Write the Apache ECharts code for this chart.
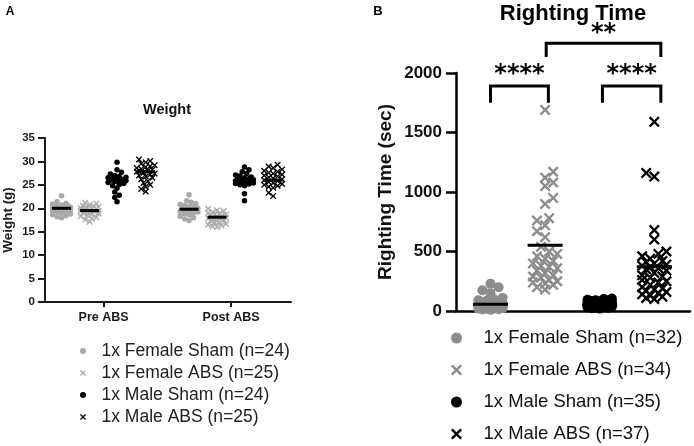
<!DOCTYPE html>
<html><head><meta charset="utf-8">
<script src="https://cdn.jsdelivr.net/npm/echarts@6/dist/echarts.min.js"></script>
<style>html,body{margin:0;padding:0;background:#fff}#c{width:694px;height:446px}</style>
</head><body><div id="c"></div>
<script>
// ---------- Panel A : Weight ----------
const weightCategories = ['Pre ABS', 'Post ABS'];
const weightGroups = ['1x Female Sham (n=24)', '1x Female ABS (n=25)', '1x Male Sham (n=24)', '1x Male ABS (n=25)'];
const weightTicks = [0, 5, 10, 15, 20, 25, 30, 35];
const femaleShamPre = [22.7, 21.4, 21.1, 20.9, 20.7, 20.5, 20.4, 20.3, 20.2, 20.1, 20.0, 19.9, 19.8, 19.7, 19.6, 19.5, 19.3, 19.2, 19.0, 18.8, 18.6, 18.4, 18.2, 18.0];
const femaleAbsPre = [21.2, 21.0, 20.8, 20.6, 20.4, 20.3, 20.1, 20.0, 19.9, 19.8, 19.7, 19.6, 19.5, 19.4, 19.3, 19.2, 19.0, 18.9, 18.7, 18.5, 18.3, 18.1, 17.9, 17.6, 17.1];
const maleShamPre = [29.8, 28.2, 27.7, 27.3, 27.0, 26.8, 26.6, 26.5, 26.3, 26.2, 26.1, 26.0, 25.9, 25.8, 25.7, 25.5, 25.3, 25.1, 24.8, 24.3, 23.5, 22.8, 22.3, 21.4];
const maleAbsPre = [30.4, 30.1, 29.8, 29.5, 29.2, 29.0, 28.8, 28.6, 28.4, 28.2, 28.0, 27.8, 27.6, 27.4, 27.2, 27.0, 26.8, 26.5, 26.2, 25.8, 25.4, 25.0, 24.6, 24.1, 23.6];
const femaleShamPost = [22.9, 21.6, 21.3, 21.0, 20.8, 20.6, 20.4, 20.2, 20.0, 19.9, 19.8, 19.7, 19.6, 19.5, 19.4, 19.3, 19.2, 19.0, 18.8, 18.6, 18.3, 18.0, 17.7, 17.4];
const femaleAbsPost = [19.9, 19.6, 19.4, 19.2, 19.0, 18.9, 18.7, 18.6, 18.4, 18.3, 18.2, 18.1, 18.0, 17.9, 17.8, 17.6, 17.5, 17.3, 17.1, 16.9, 16.7, 16.5, 16.3, 16.1, 16.0];
const maleShamPost = [28.8, 28.2, 27.8, 27.4, 27.1, 26.9, 26.7, 26.5, 26.4, 26.3, 26.1, 26.0, 25.9, 25.8, 25.7, 25.6, 25.5, 25.4, 25.3, 25.2, 25.0, 24.8, 23.1, 21.6];
const maleAbsPost = [29.3, 28.9, 28.6, 28.3, 28.0, 27.8, 27.6, 27.4, 27.2, 27.0, 26.8, 26.6, 26.4, 26.2, 26.0, 25.8, 25.6, 25.4, 25.2, 25.0, 24.8, 24.6, 24.4, 23.3, 22.6];
const weightCenterPre = [20.0, 19.5, 26.0, 27.8];
const weightCenterPost = [19.8, 18.1, 26.0, 26.0];

// ---------- Panel B : Righting Time ----------
const rightingGroups = ['1x Female Sham (n=32)', '1x Female ABS (n=34)', '1x Male Sham (n=35)', '1x Male ABS (n=37)'];
const rightingTicks = [0, 500, 1000, 1500, 2000];
const rightFemaleSham = [230, 200, 175, 150, 110, 95, 90, 85, 80, 75, 70, 65, 60, 55, 50, 48, 45, 42, 40, 38, 35, 33, 30, 28, 26, 24, 22, 20, 18, 15, 12, 10];
const rightFemaleAbs = [1690, 1170, 1120, 1080, 1050, 950, 900, 780, 760, 720, 670, 620, 540, 500, 480, 460, 440, 420, 400, 380, 370, 360, 340, 320, 300, 290, 280, 260, 250, 240, 230, 220, 200, 180];
const rightMaleSham = [105, 100, 95, 90, 88, 85, 82, 80, 78, 75, 72, 70, 68, 66, 64, 62, 60, 58, 56, 54, 52, 50, 48, 46, 44, 42, 40, 38, 36, 34, 32, 30, 27, 24, 20];
const rightMaleAbs = [1590, 1160, 1130, 680, 600, 500, 480, 460, 440, 420, 410, 400, 390, 380, 370, 360, 350, 340, 320, 300, 290, 280, 260, 250, 240, 220, 200, 190, 180, 170, 160, 150, 140, 130, 120, 110, 100];
const rightingCenters = [56, 552, 50, 372];
const comparisonPairs = [[0, 1], [2, 3], [1, 3]];
const comparisonLabels = ['****', '****', '**'];

// ---------- layout ----------
const GA = {left: 43, top: 138, width: 248, height: 164, xmin: -0.46, xmax: 1.47, ymax: 35};
const GB = {left: 456, top: 73, width: 234, height: 238, xmin: -0.632, xmax: 3.654, ymax: 2000};
const A_OFF = [-0.33, -0.11, 0.105, 0.33];
const XPATH = 'path://M0,1.5L1.5,0L5,3.5L8.5,0L10,1.5L6.5,5L10,8.5L8.5,10L5,6.5L1.5,10L0,8.5L3.5,5Z';
const FONT = '"Liberation Sans", Arial, sans-serif';
const grayA = '#a9a9a9', grayB = '#8c8c8c';

function swarm(values, pxPerUnit, diam, maxOff) {
  const idx = values.map((v, i) => i).sort((a, b) => values[a] - values[b]);
  const placed = [];
  const off = new Array(values.length).fill(0);
  const step = diam * 0.45;
  idx.forEach((i, n) => {
    const y = values[i] * pxPerUnit;
    let best = 0, bestScore = -1, done = false;
    for (let k = 0; k * step <= maxOff && !done; k++) {
      const s = n % 2 ? -1 : 1;
      const cands = k === 0 ? [0] : [s * k * step, -s * k * step];
      for (const c of cands) {
        let md = Infinity;
        for (const p of placed) { const d = Math.hypot(p[0] - c, p[1] - y); if (d < md) md = d; }
        if (md >= diam * 0.85) { best = c; done = true; break; }
        if (md > bestScore) { bestScore = md; best = c; }
      }
    }
    off[i] = best; placed.push([best, y]);
  });
  return off;
}

const axPxA = GA.width / (GA.xmax - GA.xmin), ayPxA = GA.height / GA.ymax;
const axPxB = GB.width / (GB.xmax - GB.xmin), ayPxB = GB.height / GB.ymax;

function weightPoints(g, pre, post) {
  const pts = [];
  [pre, post].forEach((arr, c) => {
    const off = swarm(arr, ayPxA, 5, 9);
    arr.forEach((v, i) => pts.push([c + A_OFF[g] + off[i] / axPxA, v]));
  });
  return pts;
}
function rightPoints(g, arr) {
  const off = swarm(arr, ayPxB, 9, 13);
  return arr.map((v, i) => [g + off[i] / axPxB, v]);
}

const weightSets = [[femaleShamPre, femaleShamPost], [femaleAbsPre, femaleAbsPost], [maleShamPre, maleShamPost], [maleAbsPre, maleAbsPost]];
const rightSets = [rightFemaleSham, rightFemaleAbs, rightMaleSham, rightMaleAbs];
const symA = ['circle', XPATH, 'circle', XPATH];
const sizeA = [5.5, 6.5, 5.5, 6.5];
const colA = [grayA, grayA, '#000', '#000'];
const sizeB = [10, 11, 10, 11];
const colB = [grayB, grayB, '#000', '#000'];

const series = [];
weightGroups.forEach((name, g) => {
  series.push({type: 'scatter', name, xAxisIndex: 0, yAxisIndex: 0, symbol: symA[g], symbolSize: sizeA[g],
    itemStyle: {color: colA[g], opacity: 1}, data: weightPoints(g, weightSets[g][0], weightSets[g][1]), z: 2});
});
rightingGroups.forEach((name, g) => {
  series.push({type: 'scatter', name, xAxisIndex: 1, yAxisIndex: 1, symbol: symA[g], symbolSize: sizeB[g],
    itemStyle: {color: colB[g], opacity: 1}, data: rightPoints(g, rightSets[g]), z: 2});
});
const meanA = [];
weightCenterPre.forEach((v, g) => meanA.push([0 + A_OFF[g], v]));
weightCenterPost.forEach((v, g) => meanA.push([1 + A_OFF[g], v]));
series.push({type: 'custom', xAxisIndex: 0, yAxisIndex: 0, z: 5, silent: true, data: meanA,
  renderItem: (p, api) => { const c = api.coord([api.value(0), api.value(1)]);
    return {type: 'line', shape: {x1: c[0] - 9.5, y1: c[1], x2: c[0] + 9.5, y2: c[1]}, style: {stroke: '#000', lineWidth: 3}}; }});
series.push({type: 'custom', xAxisIndex: 1, yAxisIndex: 1, z: 5, silent: true,
  data: rightingCenters.map((v, g) => [g, v]),
  renderItem: (p, api) => { const c = api.coord([api.value(0), api.value(1)]);
    return {type: 'line', shape: {x1: c[0] - 17.5, y1: c[1], x2: c[0] + 17.5, y2: c[1]}, style: {stroke: '#000', lineWidth: 3}}; }});
// significance brackets (layout: end offsets, heights in data units)
const bracketLayout = [
  {x1: 0, x2: 1.06, top: 1891, leg: 1750, label: 1983},
  {x1: 2.05, x2: 3.12, top: 1891, leg: 1750, label: 1983},
  {x1: 1.02, x2: 3.12, top: 2250, leg: 2134, label: 2330}
];
series.push({type: 'custom', xAxisIndex: 1, yAxisIndex: 1, z: 6, silent: true, clip: false,
  data: comparisonPairs.map((pr, i) => [pr[0], pr[1], i]),
  renderItem: (p, api) => {
    const i = api.value(2), L = bracketLayout[i];
    const a = api.coord([L.x1, L.leg]), b = api.coord([L.x1, L.top]), c = api.coord([L.x2, L.top]), d = api.coord([L.x2, L.leg]);
    const t = api.coord([(L.x1 + L.x2) / 2, L.label]);
    return {type: 'group', children: [
      {type: 'polyline', shape: {points: [a, b, c, d]}, style: {stroke: '#000', lineWidth: 3, fill: null}},
      {type: 'text', x: t[0], y: t[1], style: {text: comparisonLabels[i], fill: '#000',
        font: 'bold 24px "DejaVu Sans", sans-serif', textAlign: 'center', textVerticalAlign: 'middle', align: 'center', verticalAlign: 'middle'}}
    ]};
  }});

const axisCol = '#1a1a1a';
const option = {
  animation: false,
  backgroundColor: '#fff',
  textStyle: {fontFamily: FONT},
  grid: [
    {left: GA.left, top: GA.top, width: GA.width, height: GA.height},
    {left: GB.left, top: GB.top, width: GB.width, height: GB.height}
  ],
  xAxis: [
    {gridIndex: 0, type: 'value', min: GA.xmin, max: GA.xmax, splitLine: {show: false},
      axisLine: {onZero: false, lineStyle: {color: axisCol, width: 2}},
      axisTick: {show: true, customValues: [0, 1], length: 5, lineStyle: {color: axisCol, width: 2}},
      axisLabel: {customValues: [0, 1], formatter: v => weightCategories[Math.round(v)], color: '#1a1a1a', fontWeight: 'bold', fontSize: 12.5, margin: 9, fontFamily: FONT}},
    {gridIndex: 1, type: 'value', min: GB.xmin, max: GB.xmax, splitLine: {show: false},
      axisLine: {onZero: false, lineStyle: {color: '#000', width: 2.5}}, axisTick: {show: false}, axisLabel: {show: false}}
  ],
  yAxis: [
    {gridIndex: 0, type: 'value', min: weightTicks[0], max: weightTicks[weightTicks.length - 1], interval: weightTicks[1] - weightTicks[0],
      splitLine: {show: false},
      axisLine: {show: true, onZero: false, lineStyle: {color: axisCol, width: 2}},
      axisTick: {show: true, length: 7, lineStyle: {color: axisCol, width: 2}},
      axisLabel: {color: '#1a1a1a', fontWeight: 'bold', fontSize: 11.5, margin: 10, fontFamily: FONT, formatter: v => String(v)},
      name: 'Weight (g)', nameLocation: 'middle', nameGap: 30,
      nameTextStyle: {color: '#1a1a1a', fontWeight: 'bold', fontSize: 13.5, fontFamily: FONT}},
    {gridIndex: 1, type: 'value', min: rightingTicks[0], max: rightingTicks[rightingTicks.length - 1], interval: rightingTicks[1] - rightingTicks[0],
      splitLine: {show: false},
      axisLine: {show: true, onZero: false, lineStyle: {color: '#000', width: 2.5}},
      axisTick: {show: true, length: 10, lineStyle: {color: '#000', width: 2.5}},
      axisLabel: {color: '#111', fontWeight: 'bold', fontSize: 17, margin: 14, fontFamily: FONT, formatter: v => String(v)},
      name: 'Righting Time (sec)', nameLocation: 'middle', nameGap: 61,
      nameTextStyle: {color: '#111', fontWeight: 'bold', fontSize: 19, fontFamily: FONT}}
  ],
  legend: [
    {data: weightGroups, orient: 'vertical', left: 80, top: 342, padding: 0, height: 100, itemWidth: 27, itemHeight: 6, itemGap: 4, selectedMode: false,
      textStyle: {fontSize: 17.5, lineHeight: 18, color: '#222', fontFamily: FONT}},
    {data: rightingGroups, orient: 'vertical', left: 451, top: 327, padding: 0, height: 130, itemWidth: 44, itemHeight: 11, itemGap: 10, selectedMode: false,
      textStyle: {fontSize: 18.5, lineHeight: 22, color: '#111', fontFamily: FONT}}
  ],
  graphic: [
    {type: 'text', x: 10, y: 12, style: {text: 'A', font: 'bold 12px ' + FONT, fill: '#000', textAlign: 'center', textVerticalAlign: 'middle', align: 'center', verticalAlign: 'middle'}},
    {type: 'text', x: 378, y: 11, style: {text: 'B', font: 'bold 13px ' + FONT, fill: '#000', textAlign: 'center', textVerticalAlign: 'middle', align: 'center', verticalAlign: 'middle'}},
    {type: 'text', x: 167, y: 110, style: {text: 'Weight', font: 'bold 14.5px ' + FONT, fill: '#111', textAlign: 'center', textVerticalAlign: 'middle', align: 'center', verticalAlign: 'middle'}},
    {type: 'text', x: 573, y: 13.5, style: {text: 'Righting Time', font: 'bold 22px ' + FONT, fill: '#000', textAlign: 'center', textVerticalAlign: 'middle', align: 'center', verticalAlign: 'middle'}}
  ],
  series
};
const chart = echarts.init(document.getElementById('c'), null, {renderer: 'canvas'});
chart.setOption(option);
</script></body></html>
